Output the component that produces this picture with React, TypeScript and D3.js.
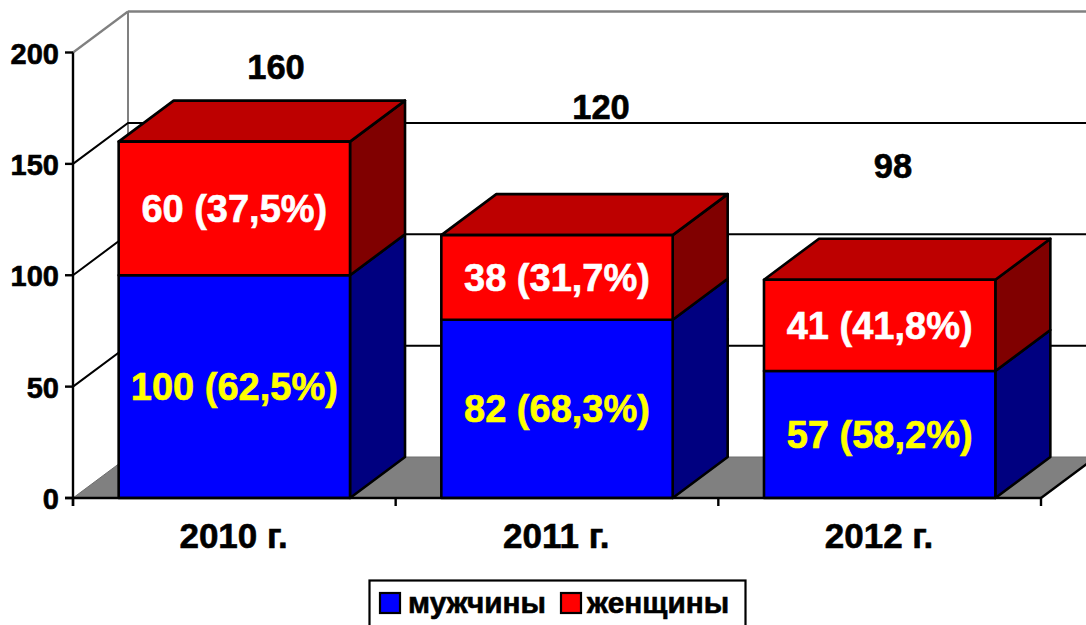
import React from "react";
import * as d3 from "d3";

const categories = ["2010 г.", "2011 г.", "2012 г."];
const men = [100, 80, 57];
const women = [60, 38, 41];
const menLabels = ["100 (62,5%)", "82 (68,3%)", "57 (58,2%)"];
const womenLabels = ["60 (37,5%)", "38 (31,7%)", "41 (41,8%)"];
const totals = ["160", "120", "98"];
const yTicks = [0, 50, 100, 150, 200];
const legendNames = ["мужчины", "женщины"];

const W = 1086, H = 625;
const DX = 55, DY = -41;
const FONT = "'Liberation Sans', Arial, sans-serif";
const totalPos = [[276, 78.5], [601, 118.5], [893, 177.5]];

const y = d3.scaleLinear().domain([0, 200]).range([498, 52.5]);
const x = d3.scaleBand<string>().domain(categories).range([73, 1041]).paddingInner(0.283).paddingOuter(0.1415);
const step = x.step();
const tickXs = d3.range(4).map((i) => 73 + i * step);

const poly = (pts: number[][]) => pts.map((p) => p.join(",")).join(" ");
const bold = { stroke: "currentColor", strokeWidth: 0.6, paintOrder: "stroke" } as any;

function Segment({ x0, w, v0, v1, front, side, top }: any) {
  const yb = y(v0), yt = y(v1), x1 = x0 + w;
  return (
    <g stroke="#000" strokeWidth={2.6} strokeLinejoin="round">
      <polygon points={poly([[x1, yb], [x1 + DX, yb + DY], [x1 + DX, yt + DY], [x1, yt]])} fill={side} />
      {top && <polygon points={poly([[x0, yt], [x0 + DX, yt + DY], [x1 + DX, yt + DY], [x1, yt]])} fill={top} />}
      <rect x={x0} y={yt} width={w} height={yb - yt} fill={front} />
    </g>
  );
}

export default function App() {
  const bw = x.bandwidth();
  return (
    <svg width={W} height={H} viewBox={`0 0 ${W} ${H}`} style={{ position: "absolute", left: 0, top: 0, background: "#fff" }} fontFamily={FONT} fontWeight="bold">
      {/* floor */}
      <polygon points={poly([[73, y(0)], [73 + DX, y(0) + DY], [1041 + DX, y(0) + DY], [1041, y(0)]])} fill="#808080" stroke="#6e6e6e" strokeWidth={1} />
      {/* walls */}
      <line x1={73 + DX} x2={73 + DX} y1={y(0) + DY} y2={y(200) + DY} stroke="#808080" strokeWidth={2} />
      <line x1={73 + DX} x2={W} y1={y(200) + DY} y2={y(200) + DY} stroke="#808080" strokeWidth={2.4} />
      <line x1={73} x2={73 + DX} y1={y(200)} y2={y(200) + DY} stroke="#808080" strokeWidth={2.2} />
      {yTicks.filter((t) => t > 0 && t < 200).map((t) => (
        <g key={t} stroke="#000" strokeWidth={2} fill="none">
          <polyline points={poly([[73, y(t)], [73 + DX, y(t) + DY], [W, y(t) + DY]])} />
        </g>
      ))}
      {/* bars */}
      {categories.map((c, i) => {
        const x0 = x(c)!;
        const mid = x0 + bw / 2;
        return (
          <g key={c}>
            <Segment x0={x0} w={bw} v0={0} v1={men[i]} front="#0000ff" side="#000080" />
            <Segment x0={x0} w={bw} v0={men[i]} v1={men[i] + women[i]} front="#ff0000" side="#800000" top="#bd0000" />
            <text x={mid} y={(y(0) + y(men[i])) / 2 + 13} textAnchor="middle" fontSize={38} fill="#ffff00" color="#ffff00" {...bold}>{menLabels[i]}</text>
            <text x={mid} y={(y(men[i]) + y(men[i] + women[i])) / 2 + 13.5} textAnchor="middle" fontSize={38} fill="#ffffff" color="#ffffff" {...bold}>{womenLabels[i]}</text>
            <text x={totalPos[i][0]} y={totalPos[i][1]} textAnchor="middle" fontSize={34.5} fill="#000" color="#000" {...bold}>{totals[i]}</text>
            <text x={mid - 0.7} y={548} textAnchor="middle" fontSize={35} fill="#000" color="#000" {...bold}>{c}</text>
          </g>
        );
      })}
      {/* axes */}
      <g stroke="#000" strokeWidth={2.4}>
        <line x1={73} x2={73} y1={y(200)} y2={506} />
        <line x1={65} x2={1041} y1={y(0)} y2={y(0)} />
        <line x1={1041} x2={1041 + DX} y1={y(0)} y2={y(0) + DY} />
        {yTicks.map((t) => <line key={t} x1={65} x2={73} y1={y(t)} y2={y(t)} />)}
        {tickXs.map((t) => <line key={t} x1={t} x2={t} y1={498} y2={506} />)}
      </g>
      {yTicks.map((t) => (
        <text key={t} x={59} y={y(t) + 11} textAnchor="end" fontSize={29} fill="#000" color="#000" {...bold}>{t}</text>
      ))}
      {/* legend */}
      <rect x={369.5} y={580.5} width={376} height={60} fill="#fff" stroke="#000" strokeWidth={2.2} />
      <rect x={380} y={593} width={20} height={20} fill="#0000ff" stroke="#000" strokeWidth={2.2} />
      <text x={408} y={613} fontSize={29.8} fill="#000" color="#000" {...bold}>{legendNames[0]}</text>
      <rect x={561} y={593} width={20} height={20} fill="#ff0000" stroke="#000" strokeWidth={2.2} />
      <text x={587} y={613} fontSize={29.8} fill="#000" color="#000" {...bold}>{legendNames[1]}</text>
    </svg>
  );
}
